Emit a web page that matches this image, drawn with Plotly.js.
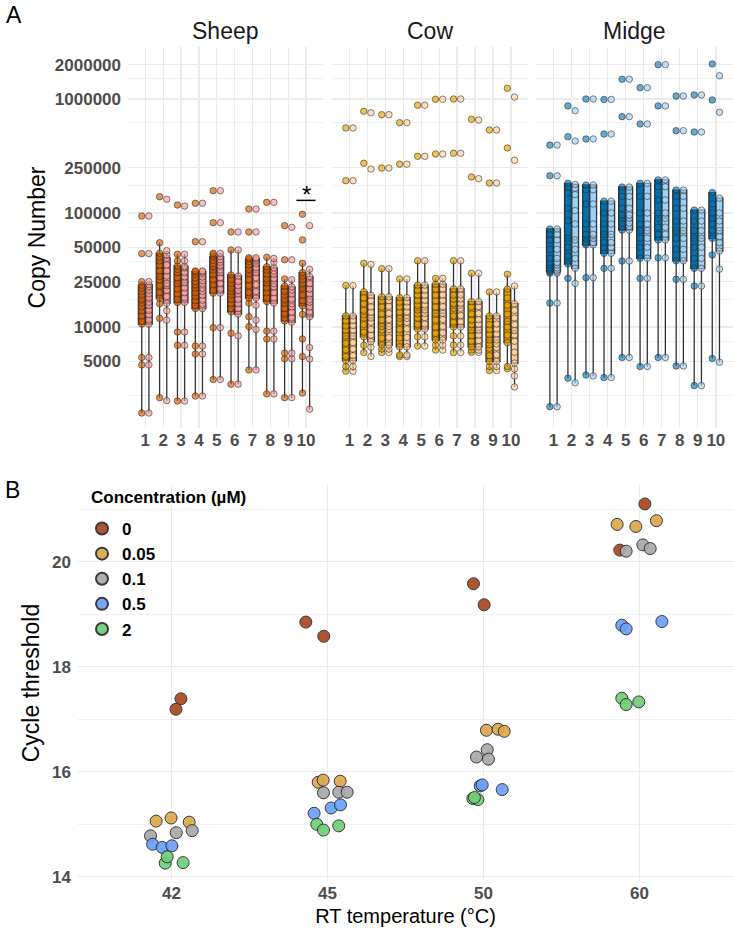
<!DOCTYPE html>
<html><head><meta charset="utf-8">
<script src="https://cdn.plot.ly/plotly-3.0.1.min.js"></script>
<style>html,body{margin:0;padding:0;background:#fff}</style>
</head><body>
<div id="chart" style="width:733px;height:928px"></div>
<script>
// ---------------- Panel A data ----------------
const categories = ['1','2','3','4','5','6','7','8','9','10'];
const facetNames = ['Sheep','Cow','Midge'];

// five-number summaries per category: [lower whisker, Q1, median, Q3, upper whisker]
const sheepDarkBox = [
 [1760,10600,16200,23300,25000],[2400,17900,27700,44300,54900],[2240,16400,24100,34300,43400],
 [2480,14500,21900,30600,31000],[3460,19800,31600,41400,44300],[3150,13600,19800,28600,47400],
 [4200,17900,29600,39500,40500],[2590,16700,24300,33800,40900],[2400,11300,16200,22900,26400],
 [2630,15300,22000,30000,36200]];
const sheepLightBox = [
 [1760,10600,16500,23500,25000],[2260,16200,24100,40100,46700],[2240,16400,24500,34000,43400],
 [2480,14500,21900,30600,31000],[3460,19800,31600,41400,44300],[3150,13000,19500,28000,47400],
 [4200,17900,30000,39500,40500],[2590,16200,24000,33000,40000],[2400,11000,16000,22500,26000],
 [1900,12300,17500,27700,32100]];
const cowDarkBox = [
 [4100,5070,8350,12500,23100],[5970,8200,12800,20400,36200],[5970,6940,10100,18400,32500],
 [5500,6700,11900,18100,26400],[6810,9600,14100,23300,38100],[6270,7700,13200,23700,26700],
 [5970,10000,14600,21600,38100],[5990,6700,9400,16700,29600],[4150,4990,7700,12500,20300],
 [4300,7280,11200,21500,29000]];
const cowLightBox = [
 [4100,5070,8350,12500,23100],[5520,7430,12000,19000,35400],[5970,6940,10100,18400,32500],
 [5500,6700,11900,18100,26400],[6810,9600,14100,23300,38100],[6270,7700,13200,23700,26700],
 [5970,10000,14600,21600,38100],[5990,6700,9400,16700,29600],[4150,4990,7700,12500,20300],
 [2980,4830,9300,16000,22900]];
const midgeDarkBox = [
 [2000,30600,35000,72400,72400],[3560,35700,60000,182000,182000],[3790,52500,60000,176000,176000],
 [3600,44300,65000,127000,127000],[5400,70900,90000,169000,169000],[4500,40100,70000,182000,182000],
 [5400,58000,90000,195000,195000],[4550,38100,70000,159000,159000],[3060,32700,60000,106000,106000],
 [5300,59900,90000,151000,151000]];
const midgeLightBox = [
 [2000,30600,35000,72400,72400],[3240,32700,58000,178000,178000],[3720,52500,60000,176000,176000],
 [3600,44300,65000,127000,127000],[5400,70900,90000,169000,169000],[4500,40100,70000,182000,182000],
 [5400,58000,90000,195000,195000],[4550,38100,70000,159000,159000],[3060,32700,60000,106000,106000],
 [4910,46400,70000,135000,135000]];

// individual copy-number values per category
const sheepDarkPts = [
 [1760,4650,5400,10600,11200,12500,13800,15000,16200,17500,19000,20500,22000,23300,25000,44000,94000],
 [2400,11900,16000,17900,20000,23000,26000,27700,31000,35000,38000,41000,44300,54900,139000],
 [2240,6900,9030,16400,17500,19500,21500,24100,27000,30000,32000,34300,38000,43400,117500],
 [2480,5800,6810,14500,15500,17000,18500,20000,21900,23500,25000,27000,29000,30600,31000,56000,121700],
 [3460,9870,19800,21000,23500,26000,29000,31600,34000,36000,38500,41400,43000,44300,82200,157000],
 [3150,8800,13600,14500,16000,17500,19000,20500,22000,24000,26000,28600,47400,68200],
 [4200,10100,12300,16200,17900,20000,23000,26000,29600,32000,35000,37500,39500,40500,68200,108400],
 [2590,7850,9200,16700,18000,20000,22000,24300,26500,29000,31500,33800,40900,124000],
 [2400,5260,5900,11300,12000,13000,14500,16200,17500,19000,20500,22900,26400,38900,77400],
 [2630,5500,7850,12900,15300,17000,19000,22000,24000,26000,28000,30000,36200,58000,97400]];
const sheepLightPts = [
 [1760,4650,5400,10600,11500,12800,14000,15500,16500,18000,19500,21000,22500,23500,25000,44000,94000],
 [2260,11500,13900,16200,18500,21000,23000,24100,28000,31000,35000,40100,43000,46700,132000],
 [2240,6900,9030,16400,18000,20000,22000,24500,27500,30000,33000,34000,38000,43400,115000],
 [2480,5800,6810,14500,15800,17200,19000,20500,21900,23800,25500,27500,29500,30600,31000,56000,121700],
 [3460,9870,19800,21500,24000,27000,30000,31600,34500,37000,39000,41400,44300,82200,157000],
 [3150,8350,13000,14500,16000,17500,19500,21000,23000,25000,28000,47400,68200],
 [4200,9500,11500,15500,17900,20500,23500,27000,30000,33000,36000,38000,39500,40500,68200,108400],
 [2590,7850,9200,16200,18000,20000,22500,24000,26500,29000,31000,33000,37000,40000,124000],
 [2400,5260,5900,11000,12000,13500,15000,16000,17500,19500,21000,22500,26000,38900,74900],
 [1900,5240,6600,12300,13500,15000,16500,17500,19500,21500,24000,27700,32100,77400]];
const cowDarkPts = [
 [4100,4500,5070,5500,6300,7200,8350,9400,10200,11300,12500,23100,192000,557000],
 [5970,6900,8200,9000,10500,12000,12800,14000,16000,18000,20400,36200,273000,780000],
 [5970,6400,6940,8000,9400,10100,11500,13000,15000,17000,18400,32500,248000,728000],
 [5500,5700,6700,8000,9500,11000,11900,13500,15000,16500,18100,26400,268000,619000],
 [6810,8200,9600,10500,12000,13000,14100,15500,17000,19000,21000,23300,38100,314000,881000],
 [6270,6940,7700,8800,10000,11500,13200,15000,17000,19000,21500,23700,26700,329000,994000],
 [5970,6940,8350,10000,11000,12500,14600,16000,17500,19000,21600,38100,334000,1000000],
 [5990,6270,6700,7500,8400,9400,10500,11500,13000,15000,16700,29600,207000,663000],
 [4150,4500,4990,5600,6500,7000,7700,8600,9500,10500,12500,20300,183000,535000],
 [4300,4500,7280,8500,10000,11200,13000,15500,18000,21500,29000,372000,1242000]];
const cowLightPts = [
 [4100,4500,5070,5600,6400,7300,8350,9400,10300,11400,12500,23100,192000,557000],
 [5520,6650,7430,8500,9500,11000,12000,13500,15000,17000,19000,35400,243000,757000],
 [5970,6400,6940,8100,9500,10100,11600,13200,15200,17000,18400,32500,248000,728000],
 [5500,5700,6700,8100,9600,11000,11900,13600,15000,16600,18100,26400,268000,619000],
 [6810,8200,9600,10600,12100,13100,14100,15600,17100,19000,21100,23300,38100,314000,881000],
 [6270,6940,7700,8900,10100,11600,13200,15100,17100,19100,21600,23700,26700,329000,994000],
 [5970,6940,8350,10000,11100,12600,14600,16100,17600,19100,21600,38100,334000,1000000],
 [5990,6270,6700,7600,8500,9400,10600,11600,13100,15100,16700,29600,200000,653000],
 [4150,4500,4990,5700,6600,7100,7700,8700,9600,10600,12500,20300,183000,535000],
 [2980,3720,4290,4830,6000,7500,8500,9300,10500,12000,14000,16000,22900,290000,1040000]];
const midgeDarkPts = [
 [2000,16200,29600,30600,31600,33000,35000,36700,40000,48000,58000,65000,72400,212000,394000],
 [3560,26700,35700,42000,50000,60000,85600,110000,150000,170000,182000,467000,869000],
 [3790,27100,52500,55000,60000,65000,80000,120000,160000,176000,446000,1000000],
 [3600,32700,44300,50000,55000,65000,80000,100000,127000,493000,990000],
 [5400,37900,70900,76000,81700,90000,96000,110000,140000,169000,700000,1490000],
 [4500,26700,40100,50000,60000,70000,80000,100000,140000,182000,604000,1257000],
 [5400,40500,58000,65000,75000,90000,100000,130000,170000,195000,869000,2000000],
 [4550,26200,38100,48000,60000,70000,85000,110000,140000,159000,527000,1062000],
 [3060,22900,32700,40000,50000,60000,70000,85000,106000,513000,1085000],
 [5300,42900,59900,70000,80000,90000,100000,120000,151000,980000,2030000]];
const midgeLightPts = [
 [2000,16200,29600,30600,31600,33000,35000,36700,40000,48000,58000,65000,72400,212000,394000],
 [3240,24100,32700,40000,48000,58000,80100,105000,145000,165000,178000,428000,789000],
 [3720,27100,52500,55000,60000,65000,80000,120000,160000,176000,446000,1000000],
 [3600,32700,44300,50000,55000,65000,80000,100000,127000,493000,990000],
 [5400,37900,70900,76000,81700,90000,96000,110000,140000,169000,700000,1490000],
 [4500,26700,40100,50000,60000,70000,80000,100000,140000,182000,604000,1257000],
 [5400,40500,58000,65000,75000,90000,100000,130000,170000,195000,869000,2000000],
 [4550,26200,38100,48000,60000,70000,85000,110000,140000,159000,527000,1062000],
 [3060,22900,32700,40000,50000,60000,70000,85000,106000,513000,1085000],
 [4910,32200,46400,55000,62000,70000,85000,100000,135000,764000,1600000]];

const yTickVals = [5000,10000,25000,50000,100000,250000,1000000,2000000];
const yTickText = ['5000','10000','25000','50000','100000','250000','1000000','2000000'];
const yMinorVals = [2500,7500,17500,37500,75000,175000,625000,1500000];

// significance mark above Sheep category 10 (bar height in copy number)
const sigCategory = '10';
const sigBarValue = 129000;

// ---------------- Panel B data ----------------
const tempLevels = ['42','45','50','60'];
const concLevels = ['0','0.05','0.1','0.5','2'];
const ctConc = [
 '0','0','0','0','0','0','0','0',
 '0.05','0.05','0.05','0.05','0.05','0.05','0.05','0.05','0.05','0.05','0.05','0.05',
 '0.1','0.1','0.1','0.1','0.1','0.1','0.1','0.1','0.1','0.1','0.1','0.1',
 '0.5','0.5','0.5','0.5','0.5','0.5','0.5','0.5','0.5','0.5','0.5','0.5',
 '2','2','2','2','2','2','2','2','2','2','2','2'];
const ctTemp = [
 '42','42','45','45','50','50','60','60',
 '42','42','42','45','45','45','50','50','50','60','60','60',
 '42','42','42','45','45','45','50','50','50','60','60','60',
 '42','42','42','45','45','45','50','50','50','60','60','60',
 '42','42','42','45','45','45','50','50','50','60','60','60'];
const ctJitter = [
 0.06,0.028,-0.139,-0.024,-0.064,0.004,0.035,-0.126,
 -0.099,-0.003,0.113,-0.06,-0.028,0.081,0.019,0.094,0.133,-0.143,-0.023,0.109,
 -0.135,0.03,0.132,-0.026,0.072,0.126,-0.045,0.024,0.032,-0.085,0.022,0.069,
 -0.122,-0.06,0.002,-0.086,0.023,0.083,-0.021,-0.008,0.12,-0.113,-0.085,0.144,
 -0.041,-0.028,0.074,-0.069,-0.026,0.072,-0.068,-0.036,-0.058,-0.113,-0.085,-0.004];
const ctValue = [
 17.39,17.19,18.85,18.58,19.58,19.18,21.10,20.22,
 15.06,15.12,15.04,15.80,15.84,15.82,16.79,16.81,16.77,20.71,20.67,20.78,
 14.78,14.84,14.88,15.60,15.61,15.61,16.28,16.42,16.24,20.20,20.32,20.25,
 14.62,14.56,14.59,15.21,15.31,15.37,15.73,15.75,15.66,18.79,18.72,18.86,
 14.26,14.38,14.27,15.00,14.89,14.97,15.49,15.47,15.51,17.40,17.28,17.33];

// ---------------- styles ----------------
const FONT = 'Liberation Sans, Arial, Helvetica, sans-serif';
const GRID = '#EBEBEB';
const TICKCOL = '#4D4D4D';
const facetStyle = [
 {dark:'#D55E00', light:'#F99D9D', darkPt:'rgba(213,94,0,0.65)', lightPt:'rgba(249,157,157,0.65)'},
 {dark:'#E69F00', light:'#FDCF9E', darkPt:'rgba(230,159,0,0.65)', lightPt:'rgba(253,207,158,0.65)'},
 {dark:'#0072B2', light:'#9FD0F5', darkPt:'rgba(0,114,178,0.6)', lightPt:'rgba(159,208,245,0.65)'}
];
const concColors = ['#A8481F','#DCA84E','#A9A9A9','#6CA0F8','#6ECF78'];

const facetData = [
 [sheepDarkBox, sheepLightBox, sheepDarkPts, sheepLightPts],
 [cowDarkBox, cowLightBox, cowDarkPts, cowLightPts],
 [midgeDarkBox, midgeLightBox, midgeDarkPts, midgeLightPts]
];

const traces = [];
function statBox(box, color, group, xa, ya){
 return {type:'box', x:categories,
  lowerfence:box.map(b=>b[0]), q1:box.map(b=>b[1]), median:box.map(b=>b[2]),
  q3:box.map(b=>b[3]), upperfence:box.map(b=>b[4]),
  boxpoints:false, fillcolor:color, line:{color:'#333333', width:1.3}, whiskerwidth:0,
  offsetgroup:group, xaxis:xa, yaxis:ya, showlegend:false, hoverinfo:'skip'};
}
function ptBox(pts, color, group, xa, ya){
 const xs=[], ys=[];
 pts.forEach((arr,i)=>arr.forEach(v=>{xs.push(categories[i]); ys.push(v);}));
 return {type:'box', x:xs, y:ys, boxpoints:'all', jitter:0, pointpos:0,
  fillcolor:'rgba(0,0,0,0)', line:{color:'rgba(0,0,0,0)', width:0}, whiskerwidth:0,
  marker:{color:color, size:6.5, line:{color:'rgba(40,40,40,0.8)', width:0.7}},
  offsetgroup:group, xaxis:xa, yaxis:ya, showlegend:false, hoverinfo:'skip'};
}
facetData.forEach((fd,k)=>{
 const xa = k===0?'x':'x'+(k+1), ya = k===0?'y':'y'+(k+1);
 const st = facetStyle[k];
 traces.push(statBox(fd[0], st.dark, 'd', xa, ya));
 traces.push(statBox(fd[1], st.light, 'l', xa, ya));
 traces.push(ptBox(fd[2], st.darkPt, 'd', xa, ya));
 traces.push(ptBox(fd[3], st.lightPt, 'l', xa, ya));
});

concLevels.forEach((c,i)=>{
 const xs=[], ys=[];
 ctConc.forEach((cc,j)=>{ if(cc===c){ xs.push(tempLevels.indexOf(ctTemp[j]) + ctJitter[j]); ys.push(ctValue[j]); } });
 traces.push({type:'scatter', mode:'markers', x:xs, y:ys, name:c, xaxis:'x4', yaxis:'y4',
  marker:{size:12, color:concColors[i], opacity:0.92, line:{color:'#2A2A2A', width:1}}, hoverinfo:'skip'});
});

// ---------------- layout ----------------
const W=733, H=928;
const px = v=>v/W, py = v=>1-v/H;
const aDomY = [py(428), py(47)];
const aRange = [3.114, 6.456];
const facetDomX = [[px(128),px(323)],[px(332),px(528)],[px(536),1]];
const sheepRange = [-0.97, 9.95];
const tickFont = {family:FONT, size:17, color:TICKCOL, weight:'bold'};

function catAxis(k){
 return {type:'category', categoryorder:'array', categoryarray:categories,
  tickmode:'array', tickvals:categories, ticktext:categories, tickangle:0,
  domain:facetDomX[k], anchor:k===0?'y':'y'+(k+1), range:sheepRange,
  showgrid:true, gridcolor:GRID, gridwidth:1.3, zeroline:false, showline:false, ticks:'',
  tickfont:tickFont, fixedrange:true};
}
function logAxis(k){
 const ax = {type:'log', domain:aDomY, anchor:k===0?'x':'x'+(k+1), range:aRange,
  tickmode:'array', tickvals:yTickVals, ticktext:yTickText,
  showgrid:true, gridcolor:GRID, gridwidth:1.3, zeroline:false, showline:false, ticks:'',
  minor:{tickmode:'array', tickvals:yMinorVals, showgrid:true, gridcolor:GRID, gridwidth:0.7, ticks:''},
  tickfont:tickFont, ticklabelstandoff:6, fixedrange:true};
 if(k===0){ ax.title = {text:'Copy Number', font:{family:FONT, size:23, color:'#000'}, standoff:2}; }
 else { ax.showticklabels=false; ax.matches='y'; }
 return ax;
}

// significance bar position expressed in the Sheep axis' domain fractions
const sigIdx = categories.indexOf(sigCategory);
const toDomX = v => (v - sheepRange[0]) / (sheepRange[1] - sheepRange[0]);
const toDomY = v => (Math.log10(v) - aRange[0]) / (aRange[1] - aRange[0]);

const annotations = [
 {text:'A', xref:'paper', yref:'paper', x:px(14), y:py(15), xanchor:'center', yanchor:'middle', showarrow:false, font:{family:FONT,size:23,color:'#000'}},
 {text:'B', xref:'paper', yref:'paper', x:px(12), y:py(490), xanchor:'center', yanchor:'middle', showarrow:false, font:{family:FONT,size:23,color:'#000'}},
 {text:'*', xref:'x', yref:'y', x:sigIdx, y:Math.log10(sigBarValue)+0.05, xanchor:'center', yanchor:'middle', showarrow:false, font:{family:FONT,size:24,color:'#000'}},
 {text:'Concentration (µM)', xref:'paper', yref:'paper', x:px(89), y:py(497), xanchor:'left', yanchor:'middle', showarrow:false, font:{family:FONT,size:17,color:'#000',weight:'bold'}}
];
facetNames.forEach((f,k)=>{
 annotations.push({text:f, xref:'paper', yref:'paper', x:(facetDomX[k][0]+facetDomX[k][1])/2, y:py(31),
  xanchor:'center', yanchor:'middle', showarrow:false, font:{family:FONT,size:23,color:'#1a1a1a'}});
});

const layout = {
 width:W, height:H, margin:{l:0,r:0,t:0,b:0}, paper_bgcolor:'#fff', plot_bgcolor:'#fff',
 font:{family:FONT}, boxmode:'group', boxgap:0.2, boxgroupgap:0.06,
 xaxis:catAxis(0), yaxis:logAxis(0), xaxis2:catAxis(1), yaxis2:logAxis(1), xaxis3:catAxis(2), yaxis3:logAxis(2),
 xaxis4:{domain:[px(78),1], anchor:'y4', range:[-0.6,3.6], tickmode:'array',
  tickvals:tempLevels.map((t,i)=>i), ticktext:tempLevels,
  showgrid:true, gridcolor:GRID, gridwidth:1.3, zeroline:false, showline:false, ticks:'',
  tickfont:tickFont, title:{text:'RT temperature (°C)', font:{family:FONT,size:20,color:'#000'}, standoff:6}, fixedrange:true},
 yaxis4:{domain:[py(881), py(485)], anchor:'x4', range:[13.92,21.46], tickmode:'array',
  tickvals:[14,16,18,20], ticktext:['14','16','18','20'],
  showgrid:true, gridcolor:GRID, gridwidth:1.3, zeroline:false, showline:false, ticks:'',
  minor:{tickmode:'array', tickvals:[15,17,19,21], showgrid:true, gridcolor:GRID, gridwidth:0.7, ticks:''},
  tickfont:tickFont, ticklabelstandoff:6,
  title:{text:'Cycle threshold', font:{family:FONT,size:23,color:'#000'}, standoff:6}, fixedrange:true},
 showlegend:true,
 legend:{x:px(82), xanchor:'left', y:py(511), yanchor:'top', bgcolor:'rgba(0,0,0,0)',
  font:{family:FONT,size:17,color:'#000',weight:'bold'}, itemsizing:'constant'},
 annotations:annotations,
 shapes:[{type:'line', xref:'x domain', yref:'y domain',
  x0:toDomX(sigIdx-0.54), x1:toDomX(sigIdx+0.53), y0:toDomY(sigBarValue), y1:toDomY(sigBarValue),
  line:{color:'#000', width:1.5}}]
};

Plotly.newPlot('chart', traces, layout, {staticPlot:true, displayModeBar:false});
</script>
</body></html>
